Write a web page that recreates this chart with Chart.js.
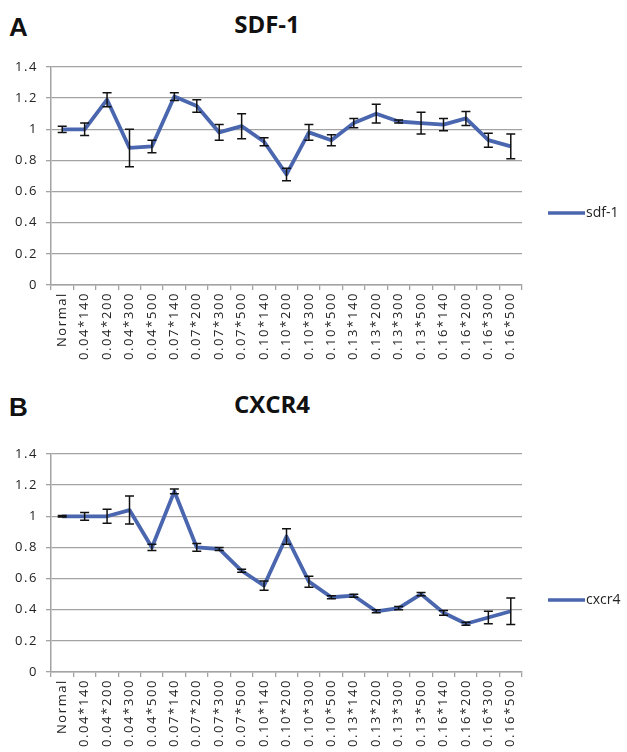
<!DOCTYPE html>
<html>
<head>
<meta charset="utf-8">
<script src="https://cdn.jsdelivr.net/npm/chart.js@4"></script>
<style>
  html, body { margin: 0; padding: 0; background: #fff; }
  body { width: 627px; height: 752px; position: relative; overflow: hidden; font-family: "Open Sans", sans-serif; }
  .letter { position: absolute; font-family: "Liberation Sans", Arial, sans-serif; font-weight: bold; font-size: 26px; color: #111; line-height: 1; }
  .title { position: absolute; font-weight: bold; font-size: 24px; color: #111; line-height: 1; transform: translateX(-50%); }
  canvas { position: absolute; left: 0; }
</style>
</head>
<body>
<div class="letter" style="left:9px; top:14px;">A</div>
<div class="title" style="left:267px; top:12px;">SDF-1</div>
<div class="letter" style="left:9px; top:394px;">B</div>
<div class="title" style="left:272px; top:392px;">CXCR4</div>
<canvas id="chartA" width="627" height="382" style="top:0;"></canvas>
<canvas id="chartB" width="627" height="370" style="top:382px;"></canvas>
<script>
// categories (concentration * dose) and relative expression
const categories = ['Normal',
  '0.04*140', '0.04*200', '0.04*300', '0.04*500',
  '0.07*140', '0.07*200', '0.07*300', '0.07*500',
  '0.10*140', '0.10*200', '0.10*300', '0.10*500',
  '0.13*140', '0.13*200', '0.13*300', '0.13*500',
  '0.16*140', '0.16*200', '0.16*300', '0.16*500'];

const sdf1Values = [1.00, 1.00, 1.19, 0.88, 0.89, 1.21, 1.15, 0.98, 1.02, 0.92, 0.71,
                    0.98, 0.93, 1.04, 1.10, 1.05, 1.04, 1.03, 1.07, 0.93, 0.89];
const sdf1Errors = [0.02, 0.04, 0.045, 0.12, 0.04, 0.025, 0.04, 0.05, 0.08, 0.025, 0.04,
                    0.05, 0.035, 0.03, 0.06, 0.01, 0.07, 0.04, 0.045, 0.045, 0.08];

const cxcr4Values = [1.00, 1.00, 1.00, 1.04, 0.80, 1.16, 0.80, 0.79, 0.65, 0.555, 0.87,
                     0.58, 0.48, 0.49, 0.39, 0.41, 0.50, 0.38, 0.31, 0.35, 0.39];
const cxcr4Errors = [0.005, 0.025, 0.045, 0.09, 0.02, 0.015, 0.025, 0.01, 0.01, 0.03, 0.05,
                     0.035, 0.01, 0.01, 0.01, 0.01, 0.01, 0.015, 0.01, 0.04, 0.085];

const yTicks = [0, 0.2, 0.4, 0.6, 0.8, 1, 1.2, 1.4];

const LINE = '#4a66ae';
const GRID = '#a3a3a3';
const TEXT = '#222';

// error bars, drawn from the same y scale as the line
const errorBars = {
  id: 'errorBars',
  afterDatasetsDraw(chart) {
    const ctx = chart.ctx;
    const y = chart.scales.y;
    chart.data.datasets.forEach((ds, i) => {
      if (!ds.errors) return;
      const meta = chart.getDatasetMeta(i);
      ctx.save();
      ctx.strokeStyle = '#111';
      ctx.lineWidth = 1.5;
      meta.data.forEach((pt, j) => {
        const v = ds.data[j], e = ds.errors[j];
        const top = y.getPixelForValue(v + e);
        const bot = y.getPixelForValue(v - e);
        ctx.beginPath();
        ctx.moveTo(pt.x, top); ctx.lineTo(pt.x, bot);
        ctx.moveTo(pt.x - 4.5, top); ctx.lineTo(pt.x + 4.5, top);
        ctx.moveTo(pt.x - 4.5, bot); ctx.lineTo(pt.x + 4.5, bot);
        ctx.stroke();
      });
      ctx.restore();
    });
  }
};

// small line-style legend at the right, Excel-like
const sideLegend = {
  id: 'sideLegend',
  afterDraw(chart) {
    const ctx = chart.ctx;
    const a = chart.chartArea;
    const ds = chart.data.datasets[0];
    const ly = a.top + (a.bottom - a.top) * 0.67;
    ctx.save();
    ctx.letterSpacing = '0px';
    ctx.strokeStyle = ds.borderColor;
    ctx.lineWidth = 3.5;
    ctx.beginPath();
    ctx.moveTo(a.right + 26, ly);
    ctx.lineTo(a.right + 63, ly);
    ctx.stroke();
    ctx.fillStyle = TEXT;
    ctx.font = '14px "Open Sans"';
    ctx.textBaseline = 'middle';
    ctx.fillText(ds.label, a.right + 64, ly);
    ctx.restore();
  }
};

// a bit of tracking on the rotated category labels
const spacing = {
  id: 'spacing',
  beforeLayout(chart) { chart.ctx.letterSpacing = '1.6px'; },
  beforeDraw(chart) { chart.ctx.letterSpacing = '1.6px'; },
  afterDatasetsDraw(chart) { chart.ctx.letterSpacing = '0px'; }
};

function makeChart(id, label, values, errors, padTop, xHeight) {
  return new Chart(document.getElementById(id), {
    type: 'line',
    data: {
      labels: categories,
      datasets: [{
        label: label,
        data: values,
        errors: errors,
        borderColor: LINE,
        backgroundColor: LINE,
        borderWidth: 3.8,
        borderJoinStyle: 'round',
        tension: 0,
        pointRadius: 0,
        pointHoverRadius: 0
      }]
    },
    options: {
      responsive: false,
      animation: false,
      events: [],
      layout: { padding: { top: padTop, right: 105, left: 0, bottom: 0 } },
      plugins: { legend: { display: false }, title: { display: false }, tooltip: { enabled: false } },
      scales: {
        x: {
          offset: true,
          grid: { offset: true, drawOnChartArea: false, drawTicks: true, tickLength: 5, color: GRID, lineWidth: 1.3 },
          border: { color: GRID, width: 1.5 },
          ticks: {
            autoSkip: false, minRotation: 90, maxRotation: 90, padding: 2,
            color: TEXT, font: { family: 'Open Sans', size: 13 }
          },
          afterFit(s) { s.height = xHeight; }
        },
        y: {
          min: 0, max: 1.4,
          afterBuildTicks(s) { s.ticks = yTicks.map(v => ({ value: v })); },
          grid: { color: GRID, lineWidth: 1.3, tickLength: 5 },
          border: { color: GRID, width: 1.5 },
          ticks: {
            padding: 8, color: TEXT, font: { family: 'Open Sans', size: 13 },
            callback: v => String(Math.round(v * 10) / 10)
          },
          afterFit(s) { s.width = 51; }
        }
      }
    },
    plugins: [spacing, errorBars, sideLegend]
  });
}

makeChart('chartA', 'sdf-1', sdf1Values, sdf1Errors, 67, 97);
makeChart('chartB', 'cxcr4', cxcr4Values, cxcr4Errors, 72, 80);
</script>
</body>
</html>
